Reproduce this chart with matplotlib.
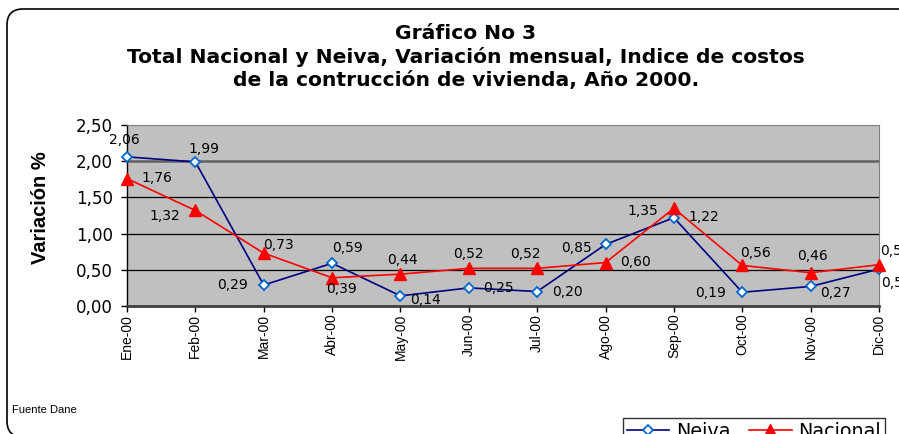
import numpy as np
import matplotlib.pyplot as plt
from matplotlib.patches import FancyBboxPatch

# data
months = ['Ene-00', 'Feb-00', 'Mar-00', 'Abr-00', 'May-00', 'Jun-00',
          'Jul-00', 'Ago-00', 'Sep-00', 'Oct-00', 'Nov-00', 'Dic-00']
neiva = [2.06, 1.99, 0.29, 0.59, 0.14, 0.25, 0.20, 0.85, 1.22, 0.19, 0.27, 0.51]
nacional = [1.76, 1.32, 0.73, 0.39, 0.44, 0.52, 0.52, 0.60, 1.35, 0.56, 0.46, 0.57]

# label offsets in pixels (dx, dy)
neiva_off = [(-3, 17), (9, 13), (-31, 0), (15, 15), (25, -4), (30, 0),
             (30, 0), (-29, -4), (30, 1), (-32, -1), (25, -7), (18, -14)]
nac_off = [(30, 1), (-31, -6), (15, 8), (9, -11), (2, 14), (0, 14),
           (-12, 14), (30, 1), (-31, -3), (13, 12), (2, 17), (16, 14)]

plt.rcParams['font.family'] = ['Liberation Sans', 'DejaVu Sans']
wide = ['DejaVu Sans']

W, H = 899, 434
fig = plt.figure(figsize=(W / 100, H / 100), dpi=100)

# rounded chart border (inches), right side runs off the picture
border = FancyBboxPatch((0.07, -0.03), 9.2, 4.25 + 0.03,
                        boxstyle='round,pad=0,rounding_size=0.16',
                        transform=fig.dpi_scale_trans, fill=False,
                        edgecolor='black', linewidth=1.2)
fig.patches.append(border)

ax = fig.add_axes([127 / W, (H - 306) / H, 752 / W, 181 / H])
ax.set_facecolor('#C0C0C0')

x = np.arange(len(months))

for yv in [0.5, 1.0, 1.5]:
    ax.axhline(yv, color='black', lw=0.9, zorder=1)
ax.axhline(2.0, color='#606060', lw=1.8, zorder=1)

ax.plot(x, neiva, color='#000080', lw=1.2, marker='D', markersize=5,
        markerfacecolor='white', markeredgecolor='#0066CC',
        markeredgewidth=1.3, label='Neiva', zorder=3, clip_on=False)
ax.plot(x, nacional, color='#FF0000', lw=1.2, marker='^', markersize=8,
        markerfacecolor='#FF0000', markeredgecolor='#FF0000',
        label='Nacional', zorder=3, clip_on=False)

def fmt(v):
    return f'{v:.2f}'.replace('.', ',')

for i, v in enumerate(neiva):
    ax.annotate(fmt(v), (x[i], v), xytext=neiva_off[i],
                textcoords='offset pixels', ha='center', va='center',
                fontsize=10, family=wide, annotation_clip=False, zorder=4)
for i, v in enumerate(nacional):
    ax.annotate(fmt(v), (x[i], v), xytext=nac_off[i],
                textcoords='offset pixels', ha='center', va='center',
                fontsize=10, family=wide, annotation_clip=False, zorder=4)

ax.set_xlim(0, len(months) - 1)
ax.set_ylim(0, 2.5)
yt = np.arange(0, 2.51, 0.5)
ax.set_yticks(yt)
ax.set_yticklabels([fmt(t) for t in yt], fontsize=12, family=wide)
ax.set_xticks(x)
ax.set_xticklabels(months, rotation=90, fontsize=10)
ax.tick_params(axis='both', direction='out', length=4, width=1, colors='black')
ax.tick_params(axis='y', pad=6)
ax.tick_params(axis='x', pad=1.5)

ax.spines['top'].set_color('#808080')
ax.spines['right'].set_color('#808080')
ax.spines['bottom'].set_color('#404040')
ax.spines['bottom'].set_linewidth(2)
ax.spines['left'].set_color('black')
ax.spines['left'].set_linewidth(1)

fig.text(40 / W, 1 - 208 / H, 'Variación %', rotation=90, ha='center',
         va='center', fontsize=14.5, fontweight='bold')

fig.text(466 / W, 1 - 57 / H,
         'Gráfico No 3\nTotal Nacional y Neiva, Variación mensual, Indice de costos\n'
         'de la contrucción de vivienda, Año 2000.',
         ha='center', va='center', fontsize=14.6, fontweight='bold',
         family=wide, linespacing=1.25)

fig.text(12 / W, 1 - 410 / H, 'Fuente Dane', ha='left', va='center', fontsize=8)

leg = fig.legend(loc='upper left', bbox_to_anchor=(623 / W, 1 - 418 / H),
                 ncol=2, frameon=True, fancybox=False,
                 prop={'family': wide, 'size': 13.8},
                 edgecolor='black', handlelength=2.2, columnspacing=1.0,
                 borderpad=0.2, handletextpad=0.35, borderaxespad=0)
leg.get_frame().set_linewidth(1)

fig.savefig('out.png', dpi=100)
